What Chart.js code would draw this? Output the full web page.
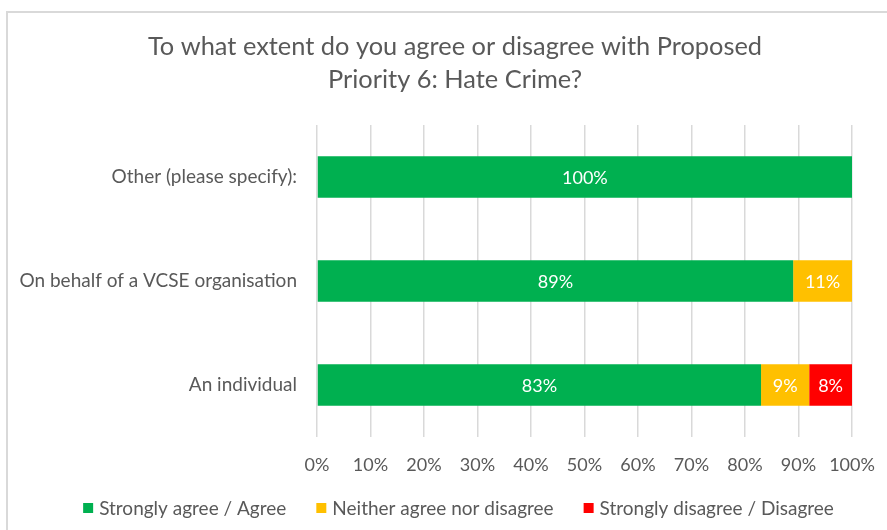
<!DOCTYPE html>
<html>
<head>
<meta charset="utf-8">
<script src="https://cdn.jsdelivr.net/npm/chart.js@4/dist/chart.umd.min.js"></script>
<style>
  html, body { margin: 0; padding: 0; background: #ffffff; }
  #wrap { width: 887px; height: 530px; position: relative; }
</style>
</head>
<body>
<div id="wrap"><canvas id="c" width="887" height="530"></canvas></div>
<script>
const titleLines = ['To what extent do you agree or disagree with Proposed', 'Priority 6: Hate Crime?'];
const categories = ['Other (please specify):', 'On behalf of a VCSE organisation', 'An individual'];
const seriesNames = ['Strongly agree / Agree', 'Neither agree nor disagree', 'Strongly disagree / Disagree'];
const agree = [100, 89, 83];
const neither = [0, 11, 9];
const disagree = [0, 0, 8];
const seriesColors = ['#00B050', '#FFC000', '#FF0000'];
const tickValues = [0, 10, 20, 30, 40, 50, 60, 70, 80, 90, 100];

const FONT = 'Lato, "Open Sans", sans-serif';
const GREY = '#595959';

const borderPlugin = {
  id: 'frame',
  beforeDraw(chart) {
    const ctx = chart.ctx;
    ctx.save();
    ctx.strokeStyle = '#d9d9d9';
    ctx.lineWidth = 2;
    ctx.beginPath();
    ctx.moveTo(6, 12);
    ctx.lineTo(chart.width, 12);
    ctx.moveTo(7, 11);
    ctx.lineTo(7, chart.height);
    ctx.stroke();
    ctx.restore();
  }
};

const titlePlugin = {
  id: 'titleText',
  afterDraw(chart) {
    const ctx = chart.ctx;
    ctx.save();
    ctx.fillStyle = GREY;
    ctx.font = '25.4px ' + FONT;
    ctx.textAlign = 'center';
    ctx.textBaseline = 'middle';
    titleLines.forEach((line, i) => ctx.fillText(line, 455, 47 + i * 33));
    ctx.restore();
  }
};

const legendPlugin = {
  id: 'legendRow',
  afterDraw(chart) {
    const ctx = chart.ctx;
    ctx.save();
    ctx.font = '19px ' + FONT;
    ctx.textBaseline = 'middle';
    ctx.textAlign = 'left';
    const box = 10, gapText = 6, gapItem = 30;
    const items = chart.data.datasets.map(ds => ({
      label: ds.label, color: ds.backgroundColor, w: ctx.measureText(ds.label).width
    }));
    const total = items.reduce((s, it) => s + box + gapText + it.w, 0) + gapItem * (items.length - 1);
    let x = 458.5 - total / 2;
    const y = 508;
    items.forEach(it => {
      ctx.fillStyle = it.color;
      ctx.fillRect(x, y - box / 2, box, box);
      ctx.fillStyle = GREY;
      ctx.fillText(it.label, x + box + gapText, y + 1);
      x += box + gapText + it.w + gapItem;
    });
    ctx.restore();
  }
};

const valueLabels = {
  id: 'valueLabels',
  afterDatasetsDraw(chart) {
    const ctx = chart.ctx;
    ctx.save();
    ctx.fillStyle = '#ffffff';
    ctx.font = '18px ' + FONT;
    ctx.textAlign = 'center';
    ctx.textBaseline = 'middle';
    chart.data.datasets.forEach((ds, di) => {
      const meta = chart.getDatasetMeta(di);
      meta.data.forEach((bar, i) => {
        const v = ds.data[i];
        if (!v) return;
        const cx = (bar.x + bar.base) / 2;
        ctx.fillText(v + '%', cx, bar.y + 1);
      });
    });
    ctx.restore();
  }
};

new Chart(document.getElementById('c'), {
  type: 'bar',
  data: {
    labels: categories,
    datasets: [
      { label: seriesNames[0], data: agree, backgroundColor: seriesColors[0] },
      { label: seriesNames[1], data: neither, backgroundColor: seriesColors[1] },
      { label: seriesNames[2], data: disagree, backgroundColor: seriesColors[2] }
    ]
  },
  options: {
    indexAxis: 'y',
    responsive: false,
    animation: false,
    devicePixelRatio: 1,
    layout: { padding: { left: 0, right: 35, top: 125, bottom: 37.4 } },
    datasets: { bar: { categoryPercentage: 1, barPercentage: 0.4 } },
    scales: {
      x: {
        stacked: true,
        min: 0,
        max: 100,
        afterBuildTicks(scale) { scale.ticks = tickValues.map(v => ({ value: v })); },
        afterFit(scale) { scale.paddingLeft = 0; scale.paddingRight = 0; },
        ticks: {
          callback: v => v + '%',
          color: GREY,
          font: { family: FONT, size: 18 },
          padding: 17,
          maxRotation: 0,
          autoSkip: false
        },
        grid: { color: '#d9d9d9', lineWidth: 1.5, drawTicks: false, tickLength: 0 },
        border: { display: false }
      },
      y: {
        stacked: true,
        afterFit(scale) { scale.width = 317; },
        ticks: {
          color: GREY,
          font: { family: FONT, size: 19 },
          padding: 20
        },
        grid: { display: false, drawTicks: false },
        border: { display: false }
      }
    },
    plugins: {
      title: { display: false },
      legend: { display: false },
      tooltip: { enabled: false }
    }
  },
  plugins: [borderPlugin, valueLabels, titlePlugin, legendPlugin]
});
</script>
</body>
</html>
